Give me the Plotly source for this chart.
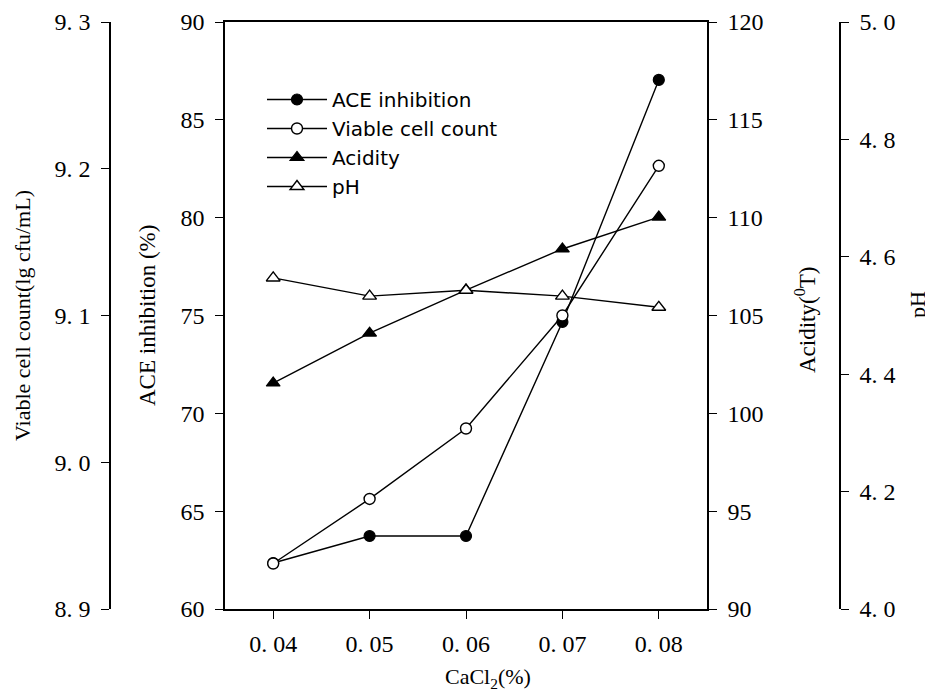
import plotly.graph_objects as go

cacl2 = [0.04, 0.05, 0.06, 0.07, 0.08]
ace_inhibition = [62.35, 63.73, 63.73, 74.67, 87.04]
viable_count = [8.931, 8.975, 9.023, 9.100, 9.202]
acidity = [101.55, 104.1, 106.3, 108.4, 110.03]
ph = [4.564, 4.533, 4.543, 4.533, 4.514]

x_ticks = [0.04, 0.05, 0.06, 0.07, 0.08]
x_ticktext = ["0. 04", "0. 05", "0. 06", "0. 07", "0. 08"]
ace_ticks = [60, 65, 70, 75, 80, 85, 90]
viable_ticks = [8.9, 9.0, 9.1, 9.2, 9.3]
viable_ticktext = ["8. 9", "9. 0", "9. 1", "9. 2", "9. 3"]
acid_ticks = [90, 95, 100, 105, 110, 115, 120]
ph_ticks = [4.0, 4.2, 4.4, 4.6, 4.8, 5.0]
ph_ticktext = ["4. 0", "4. 2", "4. 4", "4. 6", "4. 8", "5. 0"]

W, H = 933, 691
OFF = 8  # page body margin
L, R, T, B = 225 - OFF, 707 - OFF, 22 - OFF, 609 - OFF

serif = "Liberation Serif"
line = dict(color="black", width=1.4)

fig = go.Figure()
fig.add_trace(go.Scatter(x=cacl2, y=ace_inhibition, name="ACE inhibition", mode="lines+markers",
                         line=line, marker=dict(symbol="circle", size=11, color="black",
                                                line=dict(color="black", width=1.2)), yaxis="y"))
fig.add_trace(go.Scatter(x=cacl2, y=viable_count, name="Viable cell count", mode="lines+markers",
                         line=line, marker=dict(symbol="circle", size=11, color="white",
                                                line=dict(color="black", width=1.4)), yaxis="y2"))
fig.add_trace(go.Scatter(x=cacl2, y=acidity, name="Acidity", mode="lines+markers",
                         line=line, marker=dict(symbol="triangle-up", size=12, color="black",
                                                line=dict(color="black", width=1.2)), yaxis="y3"))
fig.add_trace(go.Scatter(x=cacl2, y=ph, name="pH", mode="lines+markers",
                         line=line, marker=dict(symbol="triangle-up", size=12, color="white",
                                                line=dict(color="black", width=1.4)), yaxis="y4"))

def axis_style():
    return dict(showgrid=False, zeroline=False, showline=True, linecolor="black", linewidth=1.5,
                ticks="outside", ticklen=8, tickwidth=1.3, tickcolor="black",
                tickfont=dict(family=serif, size=24, color="black"))

fig.update_layout(
    width=W, height=H,
    margin=dict(l=0, r=0, t=T, b=H - B),
    paper_bgcolor="white", plot_bgcolor="white",
    font=dict(family=serif, size=22, color="black"),
    showlegend=True,
    legend=dict(x=(262 - OFF) / W, y=(B - (80 - OFF)) / (B - T), xanchor="left", yanchor="top",
                font=dict(family="DejaVu Sans", size=20, color="black"),
                bgcolor="rgba(0,0,0,0)", tracegroupgap=0, itemwidth=60, borderwidth=0),
    xaxis=dict(domain=[L / W, R / W], range=[0.035, 0.085], tickvals=x_ticks, ticktext=x_ticktext,
               mirror=True, ticklabelstandoff=4, **axis_style()),
    yaxis=dict(range=[60, 90], tickvals=ace_ticks, anchor="x", side="left",
               ticklabelstandoff=6, **axis_style()),
    yaxis2=dict(range=[8.9, 9.3], tickvals=viable_ticks, ticktext=viable_ticktext,
                overlaying="y", anchor="free", position=(110 - OFF) / W, side="left",
                ticklabelstandoff=6, **axis_style()),
    yaxis3=dict(range=[90, 120], tickvals=acid_ticks, overlaying="y", anchor="x", side="right",
                ticklabelstandoff=6, **axis_style()),
    yaxis4=dict(range=[4.0, 5.0], tickvals=ph_ticks, ticktext=ph_ticktext,
                overlaying="y", anchor="free", position=(840 - OFF) / W, side="right",
                ticklabelstandoff=6, **axis_style()),
)

# axis titles: (text, x px, y px in the page, angle, size)
titles = [
    ("Viable cell count(lg cfu/mL)", 23, 316, -90, 22),
    ("ACE inhibition (%)", 148, 316, -90, 23),
    ("Acidity(<sup>0</sup>T)", 806, 320, -90, 23),
    ("pH", 917, 305, -90, 22),
    ("CaCl<sub>2</sub>(%)", 488, 678, 0, 22),
]
for text, px, py, ang, sz in titles:
    fx, fy = px - OFF, py - OFF
    fig.add_annotation(text=text, x=fx / W, y=(B - fy) / (B - T), xref="paper", yref="paper",
                       xanchor="center", yanchor="middle", textangle=ang,
                       showarrow=False, font=dict(family=serif, size=sz, color="black"))

fig.write_html("out.html")
